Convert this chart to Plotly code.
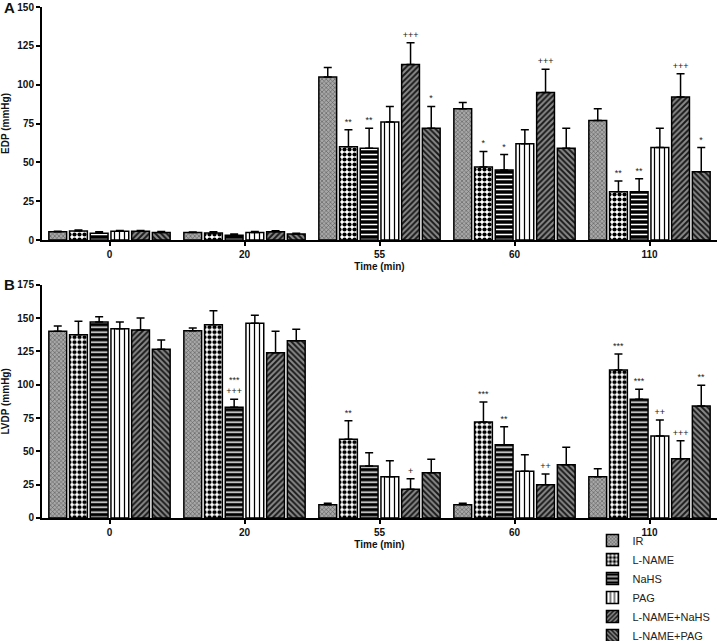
import plotly.graph_objects as go

# ---------------- data ----------------
times = ["0", "20", "55", "60", "110"]
series = ["IR", "L-NAME", "NaHS", "PAG", "L-NAME+NaHS", "L-NAME+PAG"]

# Panel A: EDP (mmHg)
edp_ir = [5.3, 4.9, 105, 84.5, 77]
edp_ir_err = [0.3, 0.3, 6, 4, 7.5]
edp_lname = [5.8, 4.5, 60, 47, 31]
edp_lname_err = [0.6, 0.8, 11, 10, 7]
edp_nahs = [4.3, 3.0, 59, 45, 31]
edp_nahs_err = [1.0, 0.8, 13, 10, 8.5]
edp_pag = [5.6, 4.9, 76, 62, 59.5]
edp_pag_err = [0.6, 0.6, 10, 9, 12.5]
edp_lnnahs = [5.6, 5.3, 113, 95, 92]
edp_lnnahs_err = [0.5, 0.6, 14, 15, 15]
edp_lnpag = [4.9, 3.9, 72, 59, 44]
edp_lnpag_err = [0.6, 0.5, 14, 13, 15.5]

edp_lname_sig = ["", "", "**", "*", "**"]
edp_nahs_sig = ["", "", "**", "*", "**"]
edp_lnnahs_sig = ["", "", "+++", "+++", "+++"]
edp_lnpag_sig = ["", "", "*", "", "*"]
edp_none_sig = ["", "", "", "", ""]

# Panel B: LVDP (mmHg)
lvdp_ir = [140, 140.5, 10, 10, 31]
lvdp_ir_err = [4, 2, 1, 1, 6]
lvdp_lname = [137.5, 145, 59, 72, 111]
lvdp_lname_err = [10, 10.5, 14, 15, 12]
lvdp_nahs = [147, 83, 39, 55, 89]
lvdp_nahs_err = [4, 6, 10, 13.5, 7.5]
lvdp_pag = [142, 146, 31, 35, 61.5]
lvdp_pag_err = [5, 6, 12, 12.5, 12]
lvdp_lnnahs = [141, 124, 21.5, 25, 44.5]
lvdp_lnnahs_err = [9, 16, 8, 8, 13.5]
lvdp_lnpag = [126.5, 133, 34, 40, 84]
lvdp_lnpag_err = [7, 8.5, 10, 13, 15.5]

lvdp_ir_sig = ["", "", "", "", ""]
lvdp_lname_sig = ["", "", "**", "***", "***"]
lvdp_nahs_sig = ["", "***<br>+++", "", "**", "***"]
lvdp_pag_sig = ["", "", "", "", "++"]
lvdp_lnnahs_sig = ["", "", "+", "++", "+++"]
lvdp_lnpag_sig = ["", "", "", "", "**"]

edp = {
    "IR": (edp_ir, edp_ir_err, edp_none_sig),
    "L-NAME": (edp_lname, edp_lname_err, edp_lname_sig),
    "NaHS": (edp_nahs, edp_nahs_err, edp_nahs_sig),
    "PAG": (edp_pag, edp_pag_err, edp_none_sig),
    "L-NAME+NaHS": (edp_lnnahs, edp_lnnahs_err, edp_lnnahs_sig),
    "L-NAME+PAG": (edp_lnpag, edp_lnpag_err, edp_lnpag_sig),
}
lvdp = {
    "IR": (lvdp_ir, lvdp_ir_err, lvdp_ir_sig),
    "L-NAME": (lvdp_lname, lvdp_lname_err, lvdp_lname_sig),
    "NaHS": (lvdp_nahs, lvdp_nahs_err, lvdp_nahs_sig),
    "PAG": (lvdp_pag, lvdp_pag_err, lvdp_pag_sig),
    "L-NAME+NaHS": (lvdp_lnnahs, lvdp_lnnahs_err, lvdp_lnnahs_sig),
    "L-NAME+PAG": (lvdp_lnpag, lvdp_lnpag_err, lvdp_lnpag_sig),
}

patterns = {
    "IR": dict(shape="x", bgcolor="#a8a8a8", fgcolor="#5a5a5a", size=3, solidity=0.35, fillmode="replace"),
    "L-NAME": dict(shape=".", bgcolor="#ffffff", fgcolor="#000000", size=5, solidity=0.55, fillmode="replace"),
    "NaHS": dict(shape="-", bgcolor="#000000", fgcolor="#ffffff", size=5, solidity=0.3, fillmode="replace"),
    "PAG": dict(shape="|", bgcolor="#ffffff", fgcolor="#000000", size=5, solidity=0.25, fillmode="replace"),
    "L-NAME+NaHS": dict(shape="/", bgcolor="#8a8a8a", fgcolor="#1a1a1a", size=4, solidity=0.5, fillmode="replace"),
    "L-NAME+PAG": dict(shape="\\", bgcolor="#8a8a8a", fgcolor="#1a1a1a", size=4, solidity=0.5, fillmode="replace"),
}

FONT = "Liberation Sans, Arial, sans-serif"
fig = go.Figure()

for panel, data, xa, ya in [("A", edp, "x", "y"), ("B", lvdp, "x2", "y2")]:
    for name in series:
        vals, errs, sig = data[name]
        fig.add_trace(go.Bar(
            x=times, y=vals, name=name, xaxis=xa, yaxis=ya,
            offsetgroup=name, showlegend=(panel == "B"),
            marker=dict(color=patterns[name]["bgcolor"], pattern=patterns[name],
                        line=dict(color="#000000", width=1.5)),
            error_y=dict(type="data", array=errs, arrayminus=[0] * len(errs), symmetric=False,
                         color="#000000", thickness=1.5, width=4),
        ))
    for name in series:
        vals, errs, sig = data[name]
        fig.add_trace(go.Bar(
            x=times, y=[0.01] * len(vals), base=[v + e for v, e in zip(vals, errs)],
            xaxis=xa, yaxis=ya, offsetgroup=name, showlegend=False,
            marker=dict(color="rgba(0,0,0,0)", line=dict(width=0)),
            text=sig, textposition="outside", constraintext="none", cliponaxis=False,
            textfont=dict(family=FONT, size=9, color="#222222"),
            hoverinfo="skip",
        ))

axis_common = dict(showline=True, linecolor="#000000", linewidth=2, ticks="outside",
                   tickcolor="#000000", ticklen=4, tickwidth=1.5, showgrid=False, zeroline=False,
                   tickfont=dict(family=FONT, size=10, color="#111111", weight="bold"))

fig.update_layout(
    width=717, height=641,
    margin=dict(l=42, r=0, t=7, b=123, autoexpand=False),
    plot_bgcolor="#ffffff", paper_bgcolor="#ffffff",
    barmode="group", bargap=0.08, bargroupgap=0.14,
    font=dict(family=FONT, color="#111111"),
    xaxis=dict(domain=[0, 1], anchor="y", type="category", categoryorder="array", categoryarray=times,
               title=dict(text="Time (min)", font=dict(family=FONT, size=10, weight="bold"), standoff=4),
               **axis_common),
    yaxis=dict(domain=[0.544, 1], anchor="x", range=[0, 150], tickvals=[0, 25, 50, 75, 100, 125, 150],
               title=dict(text="EDP (mmHg)", font=dict(family=FONT, size=10, weight="bold"), standoff=6),
               **axis_common),
    xaxis2=dict(domain=[0, 1], anchor="y2", type="category", categoryorder="array", categoryarray=times,
                title=dict(text="Time (min)", font=dict(family=FONT, size=10, weight="bold"), standoff=4),
                **axis_common),
    yaxis2=dict(domain=[0, 0.4566], anchor="x2", range=[0, 175], tickvals=[0, 25, 50, 75, 100, 125, 150, 175],
                title=dict(text="LVDP (mmHg)", font=dict(family=FONT, size=10, weight="bold"), standoff=6),
                **axis_common),
    legend=dict(x=0.8155, y=-0.0157, xanchor="left", yanchor="top", traceorder="normal",
                font=dict(family=FONT, size=11, color="#222222"), bgcolor="rgba(0,0,0,0)",
                itemwidth=30, tracegroupgap=0),
    annotations=[
        dict(text="A", x=-0.06, y=1.0, xref="paper", yref="paper", xanchor="left", yanchor="middle",
             showarrow=False, font=dict(family=FONT, size=15, weight="bold")),
        dict(text="B", x=-0.06, y=0.457, xref="paper", yref="paper", xanchor="left", yanchor="middle",
             showarrow=False, font=dict(family=FONT, size=15, weight="bold")),
    ],
)

fig.write_html("out.html")
